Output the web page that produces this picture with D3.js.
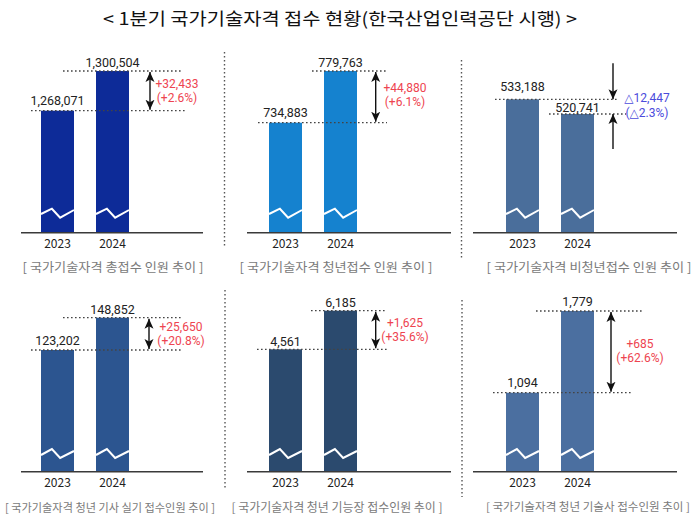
<!DOCTYPE html>
<html><head><meta charset="utf-8">
<script src="https://cdn.jsdelivr.net/npm/d3@7/dist/d3.min.js"></script>
<style>
html,body{margin:0;padding:0;background:#fff;}
svg{display:block;font-family:"Noto Sans CJK KR","Noto Sans",sans-serif;}
</style></head>
<body>
<svg id="chart" width="700" height="518"></svg>
<script>
// ---------- data ----------
const chartTitle = "< 1분기 국가기술자격 접수 현황(한국산업인력공단 시행) >";
const years = ["2023", "2024"];
const panelCaptions = [
  "[ 국가기술자격 총접수 인원 추이 ]",
  "[ 국가기술자격 청년접수 인원 추이 ]",
  "[ 국가기술자격 비청년접수 인원 추이 ]",
  "[ 국가기술자격 청년 기사 실기 접수인원 추이 ]",
  "[ 국가기술자격 청년 기능장 접수인원 추이 ]",
  "[ 국가기술자격 청년 기술사 접수인원 추이 ]"
];
const values2023 = [1268071, 734883, 533188, 123202, 4561, 1094];
const values2024 = [1300504, 779763, 520741, 148852, 6185, 1779];
const changeLabels = ["+32,433", "+44,880", "△12,447", "+25,650", "+1,625", "+685"];
const changePctLabels = ["(+2.6%)", "(+6.1%)", "(△2.3%)", "(+20.8%)", "(+35.6%)", "(+62.6%)"];
// broken-axis domains (axis starts above zero, marked by zigzag)
const axisMin = [1168400, 639400, 420230, 26540, -588, 432];
const axisMax = [1307300, 786970, 564180, 161570, 6564, 1857];

// ---------- layout / style ----------
const barColors = ["#0d2b98", "#1582cf", "#4a6e9b", "#2c5590", "#2b4a6e", "#4b6fa0"];
const colAxis = [[21, 203], [247, 451], [473, 677]];
const colBarStart = [41, 269, 506];
const rowBase = [232.7, 471.7];
const plotH = 170;
const layout = [
  {l23: [31, 185], l24: [63, 183], ax: 150, tx: 177, ty: [-7, 7.5], lab: [-10, -9]},
  {l23: [258, 387], l24: [312, 387], ax: 375.7, tx: 405, ty: [-9, 5.5], lab: [-10, -9]},
  {l23: [495, 617], l24: [549, 626], ax: 613, tx: 647, ty: [-8.5, 6], lab: [-12.6, -6.3]},
  {l23: [31, 183], l24: [63, 183], ax: 149, tx: 181, ty: [-7, 7.5], lab: [-10, -8.7]},
  {l23: [257, 387], l24: [311, 387], ax: 375.7, tx: 405, ty: [-7.5, 7], lab: [-8.3, -8.7]},
  {l23: [493, 633], l24: [536, 643], ax: 611, tx: 640, ty: [-8, 6.5], lab: [-10.4, -9.3]}
];
// [centre x, centre y, fitted width, font size]
const captionPos = [[113, 266, 181, 12.5], [336, 266, 193, 12.5], [589, 266, 205, 12.5],
                    [110, 506.5, 210, 11.5], [337, 506.5, 211, 12], [588, 506, 204, 11]];

const svg = d3.select("#chart");
const defs = svg.append("defs");
defs.append("marker").attr("id", "ah")
  .attr("markerUnits", "userSpaceOnUse")
  .attr("viewBox", "0 0 10 10").attr("refX", 10).attr("refY", 5)
  .attr("markerWidth", 10).attr("markerHeight", 10)
  .attr("orient", "auto-start-reverse")
  .append("path").attr("d", "M0,0.5 L10,5 L0,9.5 L2.5,5 Z").attr("fill", "#111");

// title
svg.append("text").attr("x", 340).attr("y", 17)
  .attr("text-anchor", "middle").attr("dominant-baseline", "central")
  .attr("font-size", 17.5).attr("fill", "#111")
  .attr("textLength", 474).attr("lengthAdjust", "spacingAndGlyphs")
  .text(chartTitle);

// dividers
const dividers = [[224.5, 52, 248], [461.5, 60, 258], [225, 290, 488], [462, 300, 497]];
svg.selectAll("line.div").data(dividers).join("line")
  .attr("x1", d => d[0]).attr("x2", d => d[0]).attr("y1", d => d[1]).attr("y2", d => d[2])
  .attr("stroke", "#555").attr("stroke-width", 1.4).attr("stroke-dasharray", "1.5,2.5");

const fmt = d3.format(",");

values2023.forEach((v23, i) => {
  const col = i % 3, row = Math.floor(i / 3);
  const base = rowBase[row];
  const L = layout[i];
  const vals = [v23, values2024[i]];
  const y = d3.scaleLinear().domain([axisMin[i], axisMax[i]]).range([base, base - plotH]);
  const x = d3.scaleBand().domain(years).range([colBarStart[col], colBarStart[col] + 88]).paddingInner(0.4).paddingOuter(0);
  const g = svg.append("g");

  // bars
  g.selectAll("rect").data(years).join("rect")
    .attr("x", d => x(d)).attr("width", x.bandwidth())
    .attr("y", (d, k) => y(vals[k])).attr("height", (d, k) => base - y(vals[k]))
    .attr("fill", barColors[i]);

  // zigzag break marks
  const zz = row === 0 ? [-18.7, -24, -15, -22.7] : [-16.7, -22.7, -13.7, -20.7];
  g.selectAll("path.zz").data(years).join("path")
    .attr("d", d => {
      const x0 = x(d), w = x.bandwidth();
      return d3.line()([[x0, base + zz[0]], [x0 + w * 0.33, base + zz[1]], [x0 + w * 0.58, base + zz[2]], [x0 + w, base + zz[3]]]);
    })
    .attr("fill", "none").attr("stroke", "#fff").attr("stroke-width", 2);

  // baseline
  g.append("line").attr("x1", colAxis[col][0]).attr("x2", colAxis[col][1])
    .attr("y1", base).attr("y2", base).attr("stroke", "#3a3a3a").attr("stroke-width", 1.6);

  // year labels
  g.selectAll("text.yr").data(years).join("text")
    .attr("x", d => x(d) + x.bandwidth() / 2).attr("y", base + 9.8)
    .attr("text-anchor", "middle").attr("dominant-baseline", "central")
    .attr("font-size", 12).attr("fill", "#222").text(d => d);

  // dotted reference lines
  [L.l23, L.l24].forEach((ext, k) => {
    g.append("line").attr("x1", ext[0]).attr("x2", ext[1])
      .attr("y1", y(vals[k])).attr("y2", y(vals[k]))
      .attr("stroke", "#444").attr("stroke-width", 1.3).attr("stroke-dasharray", "1.6,2.4");
  });

  // value labels
  g.selectAll("text.val").data(years).join("text")
    .attr("x", d => x(d) + x.bandwidth() / 2).attr("y", (d, k) => y(vals[k]) + L.lab[k])
    .attr("text-anchor", "middle").attr("dominant-baseline", "central")
    .attr("font-family", "Roboto, 'Noto Sans', sans-serif")
    .attr("font-size", 12.5).attr("fill", "#222").text((d, k) => fmt(vals[k]));

  // arrows
  const yA = y(vals[0]), yB = y(vals[1]);
  if (vals[1] >= vals[0]) {
    g.append("line").attr("x1", L.ax).attr("x2", L.ax).attr("y1", yB + 1).attr("y2", yA - 1)
      .attr("stroke", "#111").attr("stroke-width", 1.4)
      .attr("marker-start", "url(#ah)").attr("marker-end", "url(#ah)");
  } else {
    g.append("line").attr("x1", L.ax).attr("x2", L.ax).attr("y1", yA - 36).attr("y2", yA)
      .attr("stroke", "#111").attr("stroke-width", 1.4).attr("marker-end", "url(#ah)");
    g.append("line").attr("x1", L.ax).attr("x2", L.ax).attr("y1", yB).attr("y2", yB + 35)
      .attr("stroke", "#111").attr("stroke-width", 1.4).attr("marker-start", "url(#ah)");
  }

  // change labels
  const mid = (yA + yB) / 2;
  const cColor = vals[1] >= vals[0] ? "#ee4450" : "#4b4bdc";
  [changeLabels[i], changePctLabels[i]].forEach((t, k) => {
    g.append("text").attr("x", L.tx).attr("y", mid + L.ty[k])
      .attr("text-anchor", "middle").attr("dominant-baseline", "central")
      .attr("font-family", "Roboto, 'DejaVu Sans', sans-serif")
      .attr("font-size", 12).attr("fill", cColor).text(t);
  });

  // caption
  const cp = captionPos[i];
  g.append("text").attr("x", cp[0]).attr("y", cp[1])
    .attr("text-anchor", "middle").attr("dominant-baseline", "central")
    .attr("font-size", cp[3]).attr("fill", "#7a7a7a")
    .attr("textLength", cp[2]).attr("lengthAdjust", "spacingAndGlyphs")
    .text(panelCaptions[i]);
});
</script>
</body></html>
